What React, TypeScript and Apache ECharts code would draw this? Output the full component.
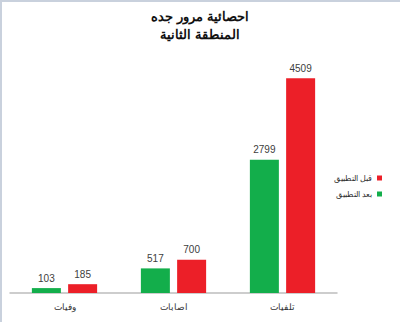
import React, { useEffect, useRef } from "react";
import * as echarts from "echarts";

const titleLines = ["احصائية مرور جده", "المنطقة الثانية"];
const categories = ["وفيات", "اصابات", "تلفيات"];
const seriesNames = ["بعد التطبيق", "قبل التطبيق"];
const afterValues = [103, 517, 2799];
const beforeValues = [185, 700, 4509];
const colors = ["#13AE4B", "#EC1F28"];

export default function App() {
  const ref = useRef<HTMLDivElement>(null);
  useEffect(() => {
    document.body.style.margin = "0";
    const chart = echarts.init(ref.current!, null, { renderer: "svg" });
    const font = "'Liberation Sans', Arial, sans-serif";
    chart.setOption({
      animation: false,
      backgroundColor: "#ffffff",
      textStyle: { fontFamily: font },
      title: {
        text: titleLines.join("\n"),
        left: "center",
        top: 2,
        textStyle: { fontSize: 13, fontWeight: "bold", color: "#111", lineHeight: 18, fontFamily: font },
      },
      legend: {
        data: [seriesNames[1], seriesNames[0]],
        orient: "vertical",
        right: 13,
        top: 169,
        align: "right",
        itemWidth: 5,
        itemHeight: 5,
        itemGap: 8,
        icon: "rect",
        formatter: (name: string) => `{t|${name}}`,
        textStyle: {
          fontSize: 7.5,
          color: "#333",
          rich: { t: { width: 26, align: "right", fontSize: 7.5, color: "#333" } },
        },
      },
      grid: { left: 10, right: 63, top: 55, bottom: 29, containLabel: false },
      xAxis: {
        type: "category",
        data: categories,
        axisLine: { lineStyle: { color: "#BDBDBD", width: 1.5 } },
        axisTick: { show: false },
        axisLabel: { fontSize: 8.5, color: "#333", margin: 9 },
      },
      yAxis: {
        type: "value",
        min: 0,
        max: 5000,
        show: false,
        splitLine: { show: false },
      },
      graphic: [
        { type: "line", shape: { x1: 0, y1: 1, x2: 400, y2: 1 }, style: { stroke: "#C9D1DD", lineWidth: 2 } },
        { type: "line", shape: { x1: 1, y1: 0, x2: 1, y2: 322 }, style: { stroke: "#C9D1DD", lineWidth: 2 } },
      ],
      series: [
        {
          name: seriesNames[0],
          type: "bar",
          data: afterValues,
          barWidth: 29,
          barGap: "25%",
          itemStyle: { color: colors[0] },
          label: { show: true, position: "top", fontSize: 10, color: "#404040", distance: 5 },
        },
        {
          name: seriesNames[1],
          type: "bar",
          data: beforeValues,
          barWidth: 29,
          barGap: "25%",
          itemStyle: { color: colors[1] },
          label: { show: true, position: "top", fontSize: 10, color: "#404040", distance: 5 },
        },
      ],
    });
    return () => chart.dispose();
  }, []);
  return <div ref={ref} style={{ width: 400, height: 322 }} />;
}
